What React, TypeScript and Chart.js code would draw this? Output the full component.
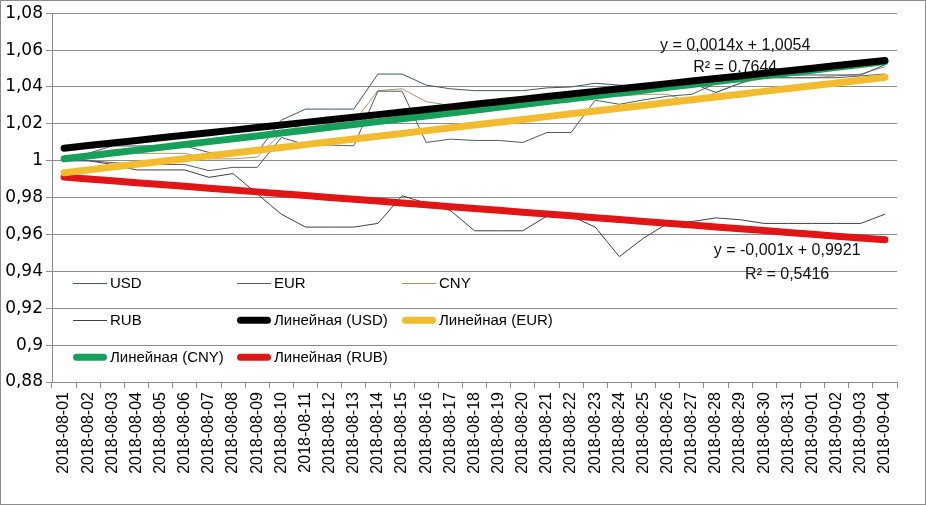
import React, { useEffect, useRef } from "react";
import { Chart, registerables } from "chart.js";

Chart.register(...registerables);

// ---------- data ----------
const categories = [
  "2018-08-01", "2018-08-02", "2018-08-03", "2018-08-04", "2018-08-05", "2018-08-06", "2018-08-07",
  "2018-08-08", "2018-08-09", "2018-08-10", "2018-08-11", "2018-08-12", "2018-08-13", "2018-08-14",
  "2018-08-15", "2018-08-16", "2018-08-17", "2018-08-18", "2018-08-19", "2018-08-20", "2018-08-21",
  "2018-08-22", "2018-08-23", "2018-08-24", "2018-08-25", "2018-08-26", "2018-08-27", "2018-08-28",
  "2018-08-29", "2018-08-30", "2018-08-31", "2018-09-01", "2018-09-02", "2018-09-03", "2018-09-04",
];

const usd = [
  1.0, 1.004, 1.008, 1.008, 1.008, 1.008, 1.0045, 1.0045, 1.0045, 1.022, 1.028, 1.028, 1.028, 1.047,
  1.047, 1.041, 1.039, 1.038, 1.038, 1.038, 1.0395, 1.04, 1.042, 1.041, 1.04, 1.041, 1.042, 1.037,
  1.042, 1.0465, 1.0465, 1.0465, 1.0465, 1.0465, 1.052,
];
const eur = [
  1.0, 1.0, 0.999, 0.998, 0.998, 0.998, 0.9946, 0.9964, 0.9964, 1.0126, 1.0087, 1.0085, 1.0081, 1.0377,
  1.0377, 1.0099, 1.0117, 1.011, 1.011, 1.0099, 1.0153, 1.0153, 1.0328, 1.0306, 1.033, 1.035, 1.036,
  1.042, 1.044, 1.045, 1.045, 1.045, 1.045, 1.046, 1.047,
];
const cny = [
  1.0, 1.002, 1.004, 1.004, 1.004, 1.004, 1.001, 1.001, 1.002, 1.015, 1.02, 1.02, 1.021, 1.038, 1.039,
  1.032, 1.03, 1.029, 1.029, 1.03, 1.031, 1.032, 1.036, 1.035, 1.036, 1.036, 1.0314, 1.037, 1.042,
  1.045, 1.045, 1.045, 1.046, 1.047, 1.051,
];
const rub = [
  1.0, 1.0, 0.998, 0.995, 0.995, 0.995, 0.991, 0.993, 0.982, 0.971, 0.964, 0.964, 0.964, 0.966, 0.981,
  0.977, 0.973, 0.962, 0.962, 0.962, 0.97, 0.97, 0.964, 0.948, 0.958, 0.966, 0.967, 0.969, 0.968,
  0.966, 0.966, 0.966, 0.966, 0.966, 0.971,
];

const seriesNames = ["USD", "EUR", "CNY", "RUB"];
const seriesValues = [usd, eur, cny, rub];
const trendNames = ["Линейная (USD)", "Линейная (EUR)", "Линейная (CNY)", "Линейная (RUB)"];
const trendSlopes = [0.0014, 0.00152, 0.00155, -0.001];
const trendIntercepts = [1.0054, 0.992, 0.9995, 0.9921];

const yMin = 0.88;
const yMax = 1.08;
const yStep = 0.02;

const equationTexts = [
  ["y = 0,0014x + 1,0054", "R² = 0,7644"],
  ["y = -0,001x + 0,9921", "R² = 0,5416"],
];
// anchor (category index, value of each line)
const equationCategory = [27.8, 29.95];
const equationValues = [
  [1.0625, 1.0507],
  [0.951, 0.9385],
];

// ---------- styles ----------
const thinColors = ["#44546a", "#595959", "#a39a6a", "#404040"];
const trendColors = ["#000000", "#f2bc2e", "#17a05a", "#e01515"];
const gridColor = "#8c8c8c";
const textFont = "'Liberation Sans', Arial, sans-serif";

const fmt = (v: number) => Number(v.toFixed(2)).toString().replace(".", ",");

const overlayPlugin = {
  id: "overlay",
  beforeDraw(chart: any) {
    const { ctx, width, height } = chart;
    ctx.save();
    ctx.fillStyle = "#ffffff";
    ctx.fillRect(0, 0, width, height);
    ctx.restore();
  },
  afterDatasetsDraw(chart: any) {
    const { ctx, chartArea } = chart;
    const xs = chart.scales.x;
    const ys = chart.scales.y;
    ctx.save();

    // legend (3 columns inside plot area)
    const items: { label: string; color: string; width: number }[] = [];
    seriesNames.forEach((n, i) => items.push({ label: n, color: thinColors[i], width: 1 }));
    trendNames.forEach((n, i) => items.push({ label: n, color: trendColors[i], width: 7 }));
    const colOffsets = [21, 185, 350];
    const rowOffsets = [270, 307, 344];
    const sampleLen = 34;
    ctx.font = `15px ${textFont}`;
    ctx.textBaseline = "middle";
    ctx.textAlign = "left";
    items.forEach((it, k) => {
      const col = k % 3;
      const row = Math.floor(k / 3);
      const x0 = chartArea.left + colOffsets[col];
      const y0 = chartArea.top + rowOffsets[row];
      ctx.beginPath();
      ctx.strokeStyle = it.color;
      ctx.lineWidth = it.width;
      if (it.width > 1) {
        ctx.lineCap = "round";
        ctx.moveTo(x0 + 3.5, y0);
        ctx.lineTo(x0 + sampleLen - 3.5, y0);
      } else {
        ctx.lineCap = "butt";
        ctx.moveTo(x0, Math.round(y0) + 0.5);
        ctx.lineTo(x0 + sampleLen, Math.round(y0) + 0.5);
      }
      ctx.stroke();
      ctx.fillStyle = "#000000";
      ctx.fillText(it.label, x0 + sampleLen + 3, y0 + 1);
    });

    // trend equations
    ctx.font = `16px ${textFont}`;
    ctx.textAlign = "center";
    ctx.fillStyle = "#111111";
    equationTexts.forEach((lines, i) => {
      const x = xs.getPixelForValue(equationCategory[i]);
      lines.forEach((t, j) => {
        ctx.fillText(t, x, ys.getPixelForValue(equationValues[i][j]));
      });
    });
    ctx.restore();
  },
  afterDraw(chart: any) {
    const { ctx, width, height } = chart;
    ctx.save();
    ctx.strokeStyle = "#8c8c8c";
    ctx.lineWidth = 1;
    ctx.strokeRect(0.5, 0.5, width - 1, height - 1);
    ctx.restore();
  },
};

export default function App() {
  const canvasRef = useRef<HTMLCanvasElement | null>(null);

  useEffect(() => {
    if (!canvasRef.current) return;
    const datasets: any[] = [];
    seriesNames.forEach((n, i) => {
      datasets.push({
        label: n,
        data: seriesValues[i],
        borderColor: thinColors[i],
        backgroundColor: thinColors[i],
        borderWidth: 1,
        pointRadius: 0,
        tension: 0,
        order: 1,
      });
    });
    trendNames.forEach((n, i) => {
      datasets.push({
        label: n,
        data: categories.map((_, k) => trendSlopes[i] * (k + 1) + trendIntercepts[i]),
        borderColor: trendColors[i],
        backgroundColor: trendColors[i],
        borderWidth: 7,
        borderCapStyle: "round",
        pointRadius: 0,
        tension: 0,
        order: 0,
      });
    });

    const chart = new Chart(canvasRef.current, {
      type: "line",
      data: { labels: categories, datasets },
      options: {
        responsive: false,
        animation: false,
        devicePixelRatio: 1,
        layout: { padding: { top: 11, right: 29, left: 0, bottom: 0 } },
        plugins: { legend: { display: false }, tooltip: { enabled: false } },
        scales: {
          x: {
            type: "category",
            offset: true,
            grid: {
              display: true,
              drawOnChartArea: false,
              drawTicks: true,
              tickLength: 6,
              color: gridColor,
              offset: true,
            },
            border: { display: true, color: gridColor },
            ticks: {
              autoSkip: false,
              minRotation: 90,
              maxRotation: 90,
              padding: 4,
              color: "#000000",
              font: { family: textFont, size: 16 },
            },
            afterFit: (s: any) => {
              s.height = 123;
            },
          },
          y: {
            min: yMin,
            max: yMax,
            grid: { color: gridColor, tickLength: 6, drawTicks: true },
            border: { display: true, color: gridColor },
            ticks: {
              stepSize: yStep,
              padding: 3,
              color: "#000000",
              font: { family: "'DejaVu Sans', sans-serif", size: 17 },
              callback: (v: any) => fmt(Number(v)),
            },
            afterFit: (s: any) => {
              s.width = 52;
            },
          },
        },
      },
      plugins: [overlayPlugin],
    } as any);
    return () => chart.destroy();
  }, []);

  return (
    <div style={{ position: "absolute", left: 0, top: 0, width: 926, height: 505 }}>
      <canvas ref={canvasRef} width={926} height={505} style={{ display: "block" }} />
    </div>
  );
}
